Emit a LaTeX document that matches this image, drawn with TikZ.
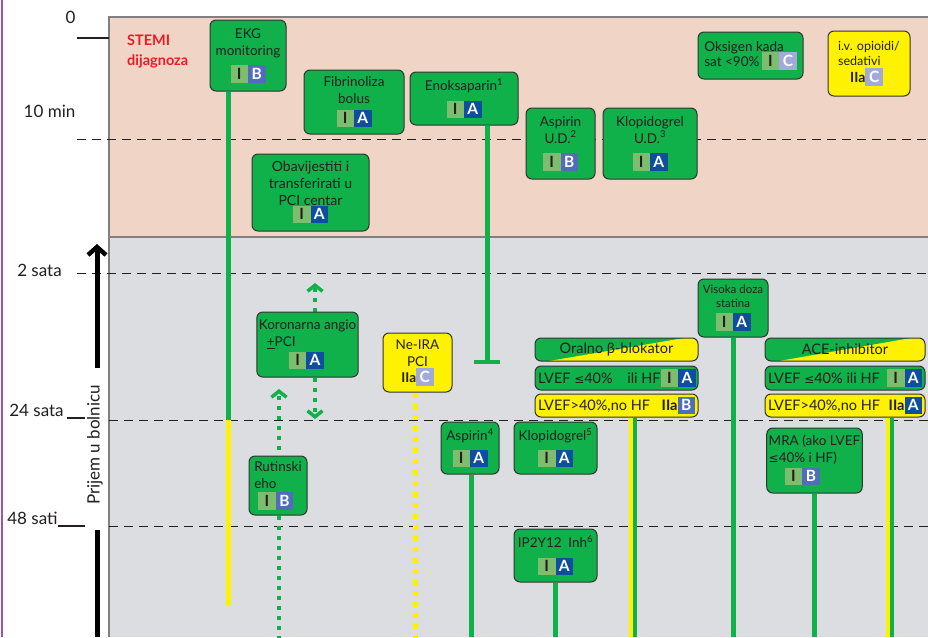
\documentclass[tikz,border=0pt]{standalone}
\usepackage{fontspec}
\setmainfont{Lato}
\newfontfamily\dejavu{DejaVu Sans}
\usetikzlibrary{arrows.meta}
\pgfdeclarelayer{bg}
\pgfdeclarelayer{lines}
\pgfsetlayers{bg,lines,main}
\definecolor{gbox}{HTML}{10B04A}
\definecolor{ybox}{HTML}{FFF200}
\definecolor{cI}{HTML}{7DBE6E}
\definecolor{cA}{HTML}{0D4F9E}
\definecolor{cB}{HTML}{4F6DB8}
\definecolor{cC}{HTML}{A3AAD9}
\definecolor{pinkbg}{HTML}{F0D4C6}
\definecolor{graybg}{HTML}{DCDDE0}
\definecolor{txt}{HTML}{231F20}
\definecolor{bline}{HTML}{333333}
\definecolor{frm}{HTML}{808080}
\definecolor{purp}{HTML}{9B55AA}
\definecolor{stemi}{HTML}{EC1C24}
\newcommand\sq[3]{{\setlength{\fboxsep}{0pt}\colorbox{#1}{\makebox[17.5pt]{\rule[-3.5pt]{0pt}{17.5pt}\textcolor{#2}{\fontsize{15.5}{15}\selectfont\bfseries #3}}}}}
\newcommand\bIA{\sq{cI}{txt}{I}\sq{cA}{white}{A}}
\newcommand\bIB{\sq{cI}{txt}{I}\sq{cB}{white}{B}}
\newcommand\bIC{\sq{cI}{txt}{I}\sq{cC}{white}{C}}
\newcommand\bIIa[2]{\textbf{IIa}\sq{#1}{white}{#2}}
\newcommand\lesym{{\dejavu\fontsize{12}{12}\selectfont ≤}}
\begin{document}
\begin{tikzpicture}[x=1pt,y=-1pt,font=\fontsize{13.5}{17}\selectfont,
  gbx/.style={draw=bline,line width=1pt,rounded corners=6pt,fill=gbox,align=center,inner sep=2pt,text=txt},
  ybx/.style={gbx,fill=ybox},
  dbx/.style={gbx,path picture={\fill[ybox,sharp corners] ([xshift=14pt]path picture bounding box.south west) -- ([xshift=-14pt]path picture bounding box.north east) -- (path picture bounding box.north east) -- (path picture bounding box.south east) -- cycle;}},
  sz/.style 2 args={minimum width=#1pt,minimum height=#2pt},
  gline/.style={draw=gbox,line width=5pt},
  yline/.style={draw=ybox,line width=5pt},
  gthin/.style={draw=gbox,line width=3.5pt},
  ythin/.style={draw=ybox,line width=3.5pt},
  gdot/.style={draw=gbox,line width=4pt,dash pattern=on 4pt off 6pt},
  ydot/.style={draw=ybox,line width=5pt,dash pattern=on 5pt off 6pt},
  chev/.style={-{Straight Barb[length=6pt,width=15pt,line width=3.5pt]}},
  tick/.style={draw=txt,line width=1.2pt},
  hdash/.style={draw=txt,line width=1pt,dash pattern=on 9pt off 6pt},
  frame/.style={draw=frm,line width=2pt},
  lab/.style={font=\fontsize{17}{17}\selectfont,text=txt,inner sep=0pt}]
\useasboundingbox (0,0) rectangle (928,637);
\begin{pgfonlayer}{bg}
\fill[white] (0,0) rectangle (928,637);
\fill[pinkbg] (109,17) rectangle (928,237);
\fill[graybg] (109,237) rectangle (928,637);
\draw[frame] (928,17) -- (109,17) -- (109,637);
\draw[frame] (109,237) -- (928,237);
\draw[draw=purp,line width=2.5pt] (2,0) -- (2,637);
\draw[tick] (77,38) -- (109,38);
\draw[hdash] (77,139) -- (928,139);
\draw[hdash] (77,273) -- (928,273);
\draw[tick] (67,418) -- (85,418);
\draw[hdash] (109,420) -- (928,420);
\draw[tick] (58,526) -- (85,526);
\draw[hdash] (109,526) -- (928,526);
\end{pgfonlayer}

% left labels
\node[lab] (l0) at (70.5,17) {0};
\node[lab] (l10) at (49.5,111) {10 min};
\node[lab] (l2) at (39.5,270) {2 sata};
\node[lab] (l24) at (36.5,410) {24 sata};
\node[lab] (l48) at (32.5,518) {48 sati};
\node[lab,rotate=90] (prijem) at (95,445) {Prijem u bolnicu};
\coordinate (arrT) at (97,244);
\coordinate (arrB) at (97,368);
\coordinate (barT) at (97,530);
\coordinate (barB) at (97,637);
\draw[line width=5pt,-{Straight Barb[length=8pt,width=18pt,line width=4.5pt]}] (arrB) -- (arrT);
\draw[line width=5pt] (barT) -- (barB);

\node[font=\fontsize{14.5}{20}\selectfont\bfseries,text=stemi,align=left,anchor=west,inner sep=0pt] (stemi) at (127,52) {STEMI\\dijagnoza};

% boxes
\node[gbx,sz={76}{71}] (ekg) at (248,55.5) {EKG\\monitoring\\[7pt]\bIB};
\node[gbx,sz={100}{64}] (fib) at (354,102) {Fibrinoliza\\bolus\\[3pt]\bIA};
\node[gbx,sz={108}{53}] (enok) at (464,98.5) {Enoksaparin\textsuperscript{1}\\[7pt]\bIA};
\node[gbx,sz={69}{71}] (asp1) at (560.5,143.5) {Aspirin\\U.D.\textsuperscript{2}\\[7pt]\bIB};
\node[gbx,sz={94}{71}] (klo1) at (650,143.5) {Klopidogrel\\U.D.\textsuperscript{3}\\[7pt]\bIA};
\node[gbx,sz={105}{47},align=left] (oks) at (750.5,55.5) {Oksigen kada\\[-2pt]sat <90\%\,\bIC};
\node[ybx,sz={82}{65},align=left,font=\fontsize{12.5}{15}\selectfont] (opi) at (869,63.5) {i.v. opioidi/\\sedativi\\[2pt]\hspace*{12pt}{\fontsize{14}{15}\selectfont\bIIa{cC}{C}}};
\node[gbx,sz={117}{77},font=\fontsize{14}{17}\selectfont] (obav) at (310.5,192.5) {Obavijestiti i\\transferirati u\\PCI centar\\[-3pt]\bIA};
\node[gbx,sz={99}{65},align=left] (kor) at (307.5,344.5) {Koronarna angio\\\hspace*{8pt}\underline{+}PCI\\[2pt]\hspace*{30pt}\bIA};
\node[ybx,sz={69}{59}] (neira) at (417.5,362.5) {Ne-IRA\\PCI\\[-1pt]\bIIa{cC}{C}};
\node[dbx,sz={163}{23},font=\fontsize{14.5}{17}\selectfont,inner sep=0pt] (beta) at (616.5,349.5) {Oralno β-blokator};
\node[gbx,sz={163}{24},font=\fontsize{14.5}{17}\selectfont,inner sep=0pt] (bl1) at (616.5,378) {\makebox[157pt][l]{LVEF \lesym40\%\quad ili HF\hfill\bIA}};
\node[ybx,sz={163}{23},font=\fontsize{14.5}{17}\selectfont,inner sep=0pt] (bl2) at (616.5,405.5) {\makebox[157pt][l]{LVEF>40\%,no HF\hfill\bIIa{cB}{B}}};
\node[gbx,sz={70}{58},font=\fontsize{11.5}{14}\selectfont] (stat) at (733,308) {Visoka doza\\statina\\[4pt]\bIA};
\node[dbx,sz={160}{23},font=\fontsize{14.5}{17}\selectfont,inner sep=0pt] (ace) at (845,349.5) {ACE-inhibitor};
\node[gbx,sz={160}{24},font=\fontsize{14.5}{17}\selectfont,inner sep=0pt] (ac1) at (845,378) {\makebox[154pt][l]{LVEF \lesym40\% ili HF\hfill\bIA}};
\node[ybx,sz={160}{23},font=\fontsize{14.5}{17}\selectfont,inner sep=0pt] (ac2) at (845,405.5) {\makebox[154pt][l]{LVEF>40\%,no HF\hfill\bIIa{cA}{A}}};
\node[gbx,sz={58}{52}] (asp2) at (470,448) {Aspirin\textsuperscript{4}\\[6pt]\bIA};
\node[gbx,sz={83}{52}] (klo2) at (555.5,448) {Klopidogrel\textsuperscript{5}\\[6pt]\bIA};
\node[gbx,sz={58}{59},align=left] (eho) at (278,485.5) {Rutinski\\eho\\[1pt]\hspace*{4pt}\bIB};
\node[gbx,sz={95}{65},align=left] (mra) at (814.5,460.5) {MRA (ako LVEF\\\lesym40\% i HF)\\[2pt]\hspace*{16pt}\bIB};
\node[gbx,sz={83}{53}] (p2y) at (555.5,555.5) {IP2Y12\enspace Inh\textsuperscript{6}\\[7pt]\bIA};

% connectors
\begin{pgfonlayer}{lines}
\coordinate (ekgM) at (228,420);
\coordinate (ekgE) at (228,605);
\draw[gline] (ekg.south -| ekgM) -- (ekgM);
\draw[yline] (ekgM) -- (ekgE);
\coordinate (enT) at (487,362);
\draw[gline] (enok.south -| enT) -- (enT);
\draw[gline,line width=4pt] ([xshift=-13pt]enT) -- ([xshift=13pt]enT);
\coordinate (kUp) at (315,283);
\coordinate (kDn) at (315,419);
\draw[gdot,chev] (kor.north -| kUp) -- (kUp);
\draw[gdot,chev] (kor.south -| kDn) -- (kDn);
\coordinate (lTop) at (279,389);
\coordinate (lBot) at (279,640);
\draw[gdot,chev] (lBot) -- (lTop);
\coordinate (nB) at (415,640);
\draw[ydot] (neira.south -| nB) -- (nB);
\coordinate (byE) at (631,637);
\coordinate (bgE) at (635,637);
\draw[ythin] (bl2.south -| byE) -- (byE);
\draw[gthin] (bl2.south -| bgE) -- (bgE);
\coordinate (stE) at (733,637);
\draw[gline] (stat.south -| stE) -- (stE);
\coordinate (ayE) at (888,637);
\coordinate (agE) at (892,637);
\draw[ythin] (ac2.south -| ayE) -- (ayE);
\draw[gthin] (ac2.south -| agE) -- (agE);
\coordinate (a2E) at (471,637);
\draw[gline] (asp2.south -| a2E) -- (a2E);
\coordinate (mE) at (814,637);
\draw[gline] (mra.south -| mE) -- (mE);
\coordinate (pE) at (555,637);
\draw[gline] (p2y.south -| pE) -- (pE);
\end{pgfonlayer}
\end{tikzpicture}
\end{document}
